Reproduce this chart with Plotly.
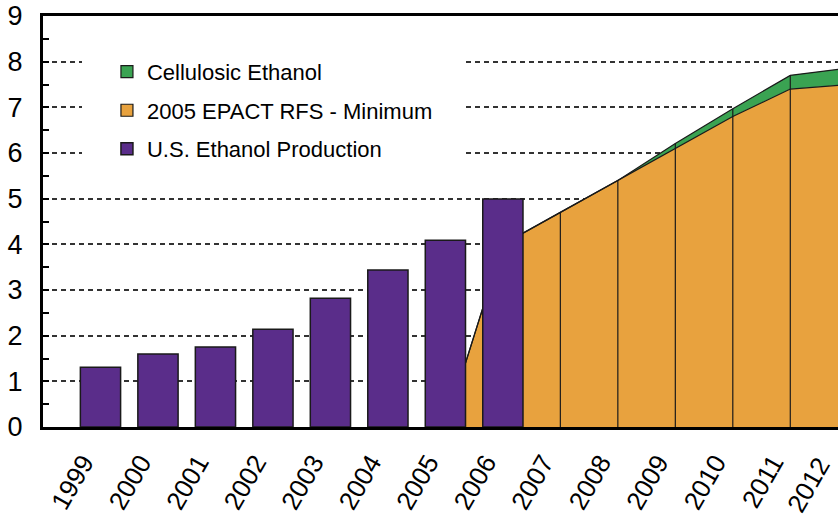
import plotly.graph_objects as go

# ---- data (billion gallons) ----
years = [1999, 2000, 2001, 2002, 2003, 2004, 2005, 2006, 2007, 2008, 2009, 2010, 2011, 2012]
tick_labels = [str(y) for y in years]

prod_years = [1999, 2000, 2001, 2002, 2003, 2004, 2005, 2006]
us_production = [1.31, 1.60, 1.75, 2.14, 2.82, 3.44, 4.09, 4.99]

rfs_years = [2005, 2006, 2007, 2008, 2009, 2010, 2011, 2012]
rfs_minimum = [0.0, 4.0, 4.7, 5.4, 6.1, 6.8, 7.4, 7.5]
cellulosic = [0.0, 0.0, 0.0, 0.0, 0.11, 0.17, 0.30, 0.36]

names = ["Cellulosic Ethanol", "2005 EPACT RFS - Minimum", "U.S. Ethanol Production"]

GREEN = "#3aa352"
ORANGE = "#e8a23e"
PURPLE = "#5a2d8a"
EDGE = "#1a1a1a"

x_range = [1998.0, 2011.83]

total = [r + c for r, c in zip(rfs_minimum, cellulosic)]

fig = go.Figure()

# orange area (RFS minimum)
fig.add_trace(go.Scatter(x=rfs_years, y=rfs_minimum, mode="lines", fill="tozeroy",
                         fillcolor=ORANGE, line=dict(color=EDGE, width=1.2),
                         showlegend=False, hoverinfo="skip"))
# green area stacked on top
fig.add_trace(go.Scatter(x=rfs_years, y=total, mode="lines", fill="tonexty",
                         fillcolor=GREEN, line=dict(color=EDGE, width=1.2),
                         showlegend=False, hoverinfo="skip"))
# vertical drop lines at each category of the area
dx, dy = [], []
for xv, tv in zip(rfs_years, total):
    dx += [xv, xv, None]
    dy += [0, tv, None]
fig.add_trace(go.Scatter(x=dx, y=dy, mode="lines", line=dict(color=EDGE, width=1.2),
                         showlegend=False, hoverinfo="skip"))

# legend entries (square swatches like the reference)
for nm, col in [(names[0], GREEN), (names[1], ORANGE)]:
    fig.add_trace(go.Bar(x=[None], y=[None], name=nm,
                         marker=dict(color=col, line=dict(color=EDGE, width=1.2)),
                         xaxis="x2", yaxis="y2", legendgroup=nm))

# production bars (on an overlay axis so they sit above the area)
fig.add_trace(go.Bar(x=prod_years, y=us_production, name=names[2], width=0.7,
                     marker=dict(color=PURPLE, line=dict(color=EDGE, width=1.5)),
                     xaxis="x2", yaxis="y2", legendgroup=names[2]))

tick_font = dict(family="Liberation Sans, Arial", size=26, color="black")

# tick labels beyond the visible range (the chart is cropped on the right)
span = x_range[1] - x_range[0]
for yv, lab in zip(years, tick_labels):
    if yv > x_range[1]:
        fig.add_annotation(x=(yv - x_range[0]) / span, y=0, xref="paper", yref="paper",
                           text=lab, showarrow=False, textangle=-60,
                           xanchor="right", yanchor="top", xshift=-9, yshift=-23,
                           font=tick_font)

fig.update_layout(
    width=838, height=517,
    margin=dict(l=43, r=0, t=16, b=90),
    paper_bgcolor="white", plot_bgcolor="white",
    barmode="overlay",
    showlegend=True,
    legend=dict(x=0.049, y=0.976, xanchor="left", yanchor="top",
                bgcolor="white", bordercolor="white", borderwidth=25,
                traceorder="grouped", tracegroupgap=7, indentation=0,
                font=dict(family="Liberation Sans, Arial", size=22, color="black")),
    xaxis=dict(range=x_range, tickvals=years, ticktext=tick_labels, tickangle=-60,
               showgrid=False, zeroline=False, showline=True, linecolor="black", linewidth=3,
               mirror=True, ticks="", ticklabelshift=-17, ticklabelstandoff=7,
               tickfont=tick_font),
    yaxis=dict(range=[0, 9], dtick=1, showgrid=True, gridcolor="#333333", gridwidth=1.5,
               griddash="5px,4px", zeroline=False, showline=True, linecolor="black", linewidth=3,
               ticks="inside", ticklen=6, tickwidth=1.5, tickcolor="black",
               minor=dict(dtick=0.5, ticks="inside", ticklen=6, tickwidth=1.5,
                          tickcolor="black", showgrid=False),
               ticklabelstandoff=12, ticklabeloverflow="allow",
               tickfont=dict(family="Liberation Sans, Arial", size=27, color="black")),
    xaxis2=dict(range=x_range, overlaying="x", visible=False),
    yaxis2=dict(range=[0, 9], overlaying="y", visible=False),
)

fig.write_html("out.html", config={"displayModeBar": False},
               post_script="document.body.style.margin='0px';")
